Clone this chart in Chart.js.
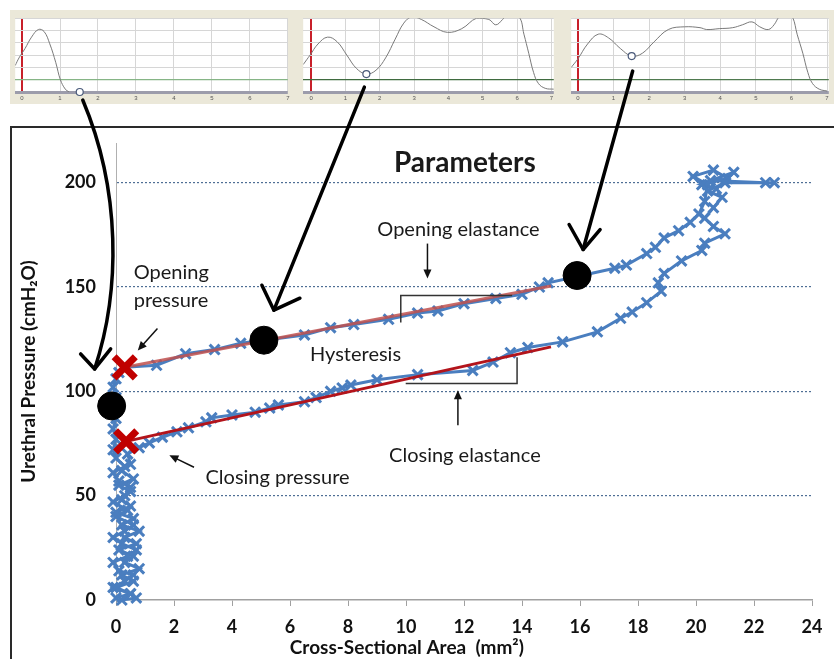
<!DOCTYPE html>
<html>
<head>
<meta charset="utf-8">
<title>Parameters</title>
<script src="https://cdn.jsdelivr.net/npm/chart.js@4.4.0/dist/chart.umd.min.js"></script>
<style>
  html, body { margin: 0; padding: 0; background: #fff; }
  #page { position: relative; width: 834px; height: 659px; overflow: hidden; }
  #mainChart { position: absolute; left: 0; top: 0; z-index: 1; }
  #frame { position: absolute; left: 10px; top: 126px; width: 830px; height: 540px;
           border-top: 2px solid #2a2a2a; border-left: 2px solid #2a2a2a; z-index: 2; pointer-events: none; }
  #strip { position: absolute; left: 10px; top: 10px; width: 824px; height: 94px; background: #ebe8d9; z-index: 3; }
  .panel { position: absolute; top: 13px; z-index: 4; }
  #overlay { position: absolute; left: 0; top: 0; z-index: 5; pointer-events: none; }
</style>
</head>
<body>
<div id="page">
  <canvas id="mainChart" width="834" height="659"></canvas>
  <div id="frame"></div>
  <div id="strip"></div>
  <canvas id="panel1" class="panel" width="283" height="91" style="left:10px"></canvas>
  <canvas id="panel2" class="panel" width="261" height="91" style="left:298px"></canvas>
  <canvas id="panel3" class="panel" width="268" height="91" style="left:566px"></canvas>
  <canvas id="overlay" width="834" height="659"></canvas>
</div>
<script>
// pressure-area loop (area mm2, pressure cmH2O), in recording order
const loopArea = [
    0.0, 0.5, -0.1, 0.3, 0.6, 0.1, -0.1, 0.4, 0.7, 0.2, -0.1, 0.3, 0.6, 0.0, 0.4, -0.1, 0.3, 0.5, 0.1, -0.1,
    0.3, 0.0, -0.1, 0.0, -0.1, 0.0, -0.1, 0.0, -0.1, 0.0, 0.1,
    0.3, 1.4, 2.4, 3.4, 4.3, 5.1, 6.5, 7.4, 8.2, 9.4, 10.4, 11.1, 12.0, 13.1, 14.0, 14.6, 14.9, 15.9,
    17.2, 17.6, 18.3, 18.6, 18.9, 19.4, 19.8, 20.1, 20.3, 20.4, 19.9, 20.6, 21.1, 20.2, 20.7, 21.3, 20.5,
    22.4, 22.7, 21.0, 20.4, 20.9, 20.6, 20.3, 20.6, 21.0, 20.3, 20.2, 19.5, 18.9, 18.7, 18.8, 18.3, 17.8,
    17.4, 16.6, 15.4, 14.2, 13.6, 13.0, 12.3, 10.4, 9.0, 8.1, 7.8, 7.4, 6.9, 6.5, 5.6, 5.3, 4.8, 4.0,
    3.3, 3.1, 2.5, 2.1, 1.6, 1.15, 0.8, 0.4, 0.5,
    0.2, 0.6, 0.1, 0.5, 0.2, 0.5, 0.0, 0.6, 0.2, 0.8, 0.3, 0.7, 0.1, 0.6, 0.3, 0.8, 0.2, 0.6, 0.0, 0.5, 0.2, 0.7
];
const loopPressure = [
    1, 3, 6, 9, 12, 14, 18, 21, 24, 27, 30, 33, 36, 40, 43, 47, 50, 54, 57, 61,
    64, 68, 72, 77, 82, 87, 92, 97, 102, 106, 109,
    111.5, 112.5, 118, 120, 123, 124.5, 127, 130.5, 132, 134.5, 137.5, 138.5, 142, 144.5, 146.5, 150, 152, 155,
    159, 160.5, 166, 169, 173.5, 177, 181, 185, 191, 199, 203, 206, 202, 199, 197, 205, 201,
    200, 200, 200, 196, 193, 188, 183, 179, 175.5, 171, 167.5, 162.5, 156.5, 152, 148, 142.5, 138,
    135, 128.5, 123.7, 121, 118.5, 114, 110, 108, 105.5, 103, 101.6, 100, 97, 95, 93.5, 92, 90, 88.7,
    87.3, 85.4, 82.5, 80.6, 78, 75.3, 73, 70, 65,
    62, 58, 55, 52, 48, 45, 42, 39, 36, 33, 30, 27, 24, 21, 18, 15, 12, 9, 6, 3, 0, 1
];

// linear fits for the elastances
const openFitArea = [0.3, 15.0];
const openFitPressure = [111.5, 150.5];
const closeFitArea = [0.35, 15.0];
const closeFitPressure = [76, 121.3];

// opening / closing pressure marks
const pressureMarkArea = [0.3, 0.35];
const pressureMarkPressure = [111.5, 76];

// instants shown in the three traces above
const instantArea = [-0.15, 5.1, 15.9];
const instantPressure = [93, 124.5, 155.5];

const areaTicks = { min: 0, max: 24, step: 2 };
const pressureTicks = { min: 0, max: 219, step: 50 };

// the three traces (time, diameter level)
const trace1X = [-0.18, -0.08, 0.08, 0.25, 0.43, 0.58, 0.73, 0.89, 1.01, 1.14, 1.24];
const trace1Y = [2.15, 2.77, 3.54, 4.46, 5.08, 4.92, 3.92, 2.38, 1.0, 0.23, 0.0];
const trace2X = [-0.23, -0.03, 0.2, 0.48, 0.76, 1.04, 1.32, 1.61, 1.89, 2.17, 2.45, 2.7, 2.93, 3.21, 3.58,
    3.97, 4.39, 4.82, 5.18, 5.38, 5.58, 5.75, 6.06, 6.2, 6.34, 6.48, 6.62, 6.82, 7.07];
const trace2Y = [2.23, 3.0, 3.9, 4.46, 4.08, 3.0, 1.92, 1.46, 1.77, 2.77, 4.3, 5.6, 6.1, 5.9, 5.3,
    4.85, 5.15, 6.0, 5.9, 5.46, 5.9, 6.4, 6.1, 4.7, 3.15, 1.6, 0.7, 0.3, 0.23];
const trace3X = [-0.19, 0.0, 0.27, 0.57, 0.86, 1.19, 1.51, 1.81, 2.14, 2.54, 3.0, 3.43, 3.62, 3.97, 4.35,
    4.62, 4.89, 5.11, 5.35, 5.51, 5.65, 5.86, 6.03, 6.16, 6.32, 6.46, 6.59, 6.78, 7.0];
const trace3Y = [2.0, 2.7, 3.9, 4.7, 4.4, 3.54, 2.92, 3.15, 4.08, 5.08, 5.3, 5.23, 5.08, 5.15, 5.23,
    5.46, 5.7, 5.3, 5.08, 5.46, 6.1, 6.6, 6.1, 4.7, 3.15, 1.6, 0.7, 0.23, 0.08];
const traceMarkX = [1.52, 1.61, 1.51];
const traceMarkY = [0.0, 1.46, 2.92];

const toPoints = (xs, ys) => xs.map((x, i) => ({ x: x, y: ys[i] }));
const FONT = 'Lato, "Open Sans", sans-serif';

// text notes and slope brackets, in data units of the main chart
const notes = [
    { text: 'Parameters', x: 12.03, y: 209.6, font: 'bold 28px ' + FONT, align: 'center' },
    { text: 'Opening elastance', x: 11.81, y: 177.5, font: '20px ' + FONT, align: 'center' },
    { text: 'Opening', x: 0.61, y: 156.9, font: '20px ' + FONT, align: 'left', box: true },
    { text: 'pressure', x: 0.61, y: 143.5, font: '20px ' + FONT, align: 'left', box: true },
    { text: 'Hysteresis', x: 8.26, y: 117.7, font: '20px ' + FONT, align: 'center' },
    { text: 'Closing elastance', x: 12.03, y: 69.4, font: '20px ' + FONT, align: 'center' },
    { text: 'Closing pressure', x: 5.57, y: 58.9, font: '20px ' + FONT, align: 'center' }
];
const pointers = [
    [[1.43, 130.1], [0.75, 119.6]],
    [[10.74, 170.8], [10.74, 154.1]],
    [[11.79, 83.7], [11.79, 100.5]],
    [[2.69, 63.6], [1.84, 69.4]]
];
const brackets = [
    [[9.82, 133], [9.82, 145.9], [13.66, 145.9]],
    [[9.99, 103.8], [13.83, 103.8], [13.83, 116.3]]
];

const notesPlugin = {
    id: 'notes',
    afterDraw(chart) {
        const ctx = chart.ctx;
        const sx = chart.scales.x, sy = chart.scales.y;
        const px = v => sx.getPixelForValue(v);
        const py = v => sy.getPixelForValue(v);
        ctx.save();
        ctx.textBaseline = 'middle';
        notes.forEach(n => {
            ctx.font = n.font;
            ctx.textAlign = n.align;
            if (n.box) {
                const w = ctx.measureText(n.text).width;
                ctx.fillStyle = '#fff';
                ctx.fillRect(px(n.x) - 3, py(n.y) - 12, w + 6, 24);
            }
            ctx.fillStyle = '#1a1a1a';
            ctx.fillText(n.text, px(n.x), py(n.y));
        });
        // x axis title
        ctx.font = 'bold 19px ' + FONT;
        ctx.textAlign = 'center';
        ctx.fillStyle = '#111';
        ctx.fillText('Cross-Sectional Area  (mm²)', px(10.03), chart.chartArea.bottom + 48);

        ctx.strokeStyle = '#111';
        ctx.fillStyle = '#111';
        ctx.lineWidth = 1.5;
        pointers.forEach(p => {
            const x0 = px(p[0][0]), y0 = py(p[0][1]);
            const x1 = px(p[1][0]), y1 = py(p[1][1]);
            const a = Math.atan2(y1 - y0, x1 - x0);
            ctx.beginPath();
            ctx.moveTo(x0, y0);
            ctx.lineTo(x1 - 6 * Math.cos(a), y1 - 6 * Math.sin(a));
            ctx.stroke();
            ctx.beginPath();
            ctx.moveTo(x1, y1);
            ctx.lineTo(x1 - 9 * Math.cos(a) + 4 * Math.sin(a), y1 - 9 * Math.sin(a) - 4 * Math.cos(a));
            ctx.lineTo(x1 - 9 * Math.cos(a) - 4 * Math.sin(a), y1 - 9 * Math.sin(a) + 4 * Math.cos(a));
            ctx.closePath();
            ctx.fill();
        });
        ctx.lineWidth = 1.5;
        ctx.strokeStyle = '#333';
        brackets.forEach(b => {
            ctx.beginPath();
            b.forEach((pt, i) => i ? ctx.lineTo(px(pt[0]), py(pt[1])) : ctx.moveTo(px(pt[0]), py(pt[1])));
            ctx.stroke();
        });
        ctx.restore();
    }
};

const mainChart = new Chart(document.getElementById('mainChart'), {
    type: 'scatter',
    data: {
        datasets: [{
            label: 'Instants',
            data: toPoints(instantArea, instantPressure),
            pointStyle: 'circle',
            pointRadius: 14,
            pointBackgroundColor: '#000',
            pointBorderColor: '#000',
            clip: false,
            order: 0
        }, {
            label: 'Opening / closing pressure',
            data: toPoints(pressureMarkArea, pressureMarkPressure),
            pointStyle: 'crossRot',
            pointRadius: 15,
            pointBorderWidth: 7,
            pointBorderColor: '#c00000',
            clip: false,
            order: 1
        }, {
            label: 'Opening elastance',
            data: toPoints(openFitArea, openFitPressure),
            showLine: true,
            borderColor: 'rgba(192, 80, 77, 0.85)',
            borderWidth: 3,
            pointRadius: 0,
            order: 2
        }, {
            label: 'Closing elastance',
            data: toPoints(closeFitArea, closeFitPressure),
            showLine: true,
            borderColor: '#b3141b',
            borderWidth: 3,
            pointRadius: 0,
            order: 3
        }, {
            label: 'Loop',
            data: toPoints(loopArea, loopPressure),
            showLine: true,
            borderColor: '#4a7ebf',
            borderWidth: 3,
            pointStyle: 'crossRot',
            pointRadius: 7,
            pointBorderWidth: 3,
            pointBorderColor: '#4a7ebf',
            clip: false,
            order: 4
        }]
    },
    options: {
        responsive: false,
        animation: false,
        events: [],
        layout: { padding: { left: 10, top: 143, right: 12, bottom: 0 } },
        plugins: { legend: { display: false }, tooltip: { enabled: false } },
        scales: {
            x: {
                type: 'linear',
                min: areaTicks.min,
                max: areaTicks.max,
                ticks: { stepSize: areaTicks.step, padding: 10, color: '#111', font: { family: FONT, size: 18, weight: 'bold' } },
                grid: { drawOnChartArea: false, tickLength: 6, color: '#a0a0a0' },
                border: { color: '#a0a0a0', width: 1.5 },
                afterFit: s => { s.height = 59; }
            },
            y: {
                min: pressureTicks.min,
                max: pressureTicks.max,
                ticks: { stepSize: pressureTicks.step, includeBounds: false, padding: 20, color: '#111', font: { family: FONT, size: 18, weight: 'bold' } },
                grid: {
                    drawTicks: false,
                    lineWidth: 1.2,
                    color: ctx => (ctx.tick && ctx.tick.value === 0) ? 'rgba(0,0,0,0)' : '#4f6f95'
                },
                border: { color: '#b0b0b0', width: 1, dash: [2, 2] },
                title: {
                    display: true,
                    text: 'Urethral Pressure (cmH₂O)',
                    color: '#111',
                    font: { family: FONT, size: 19, weight: 'bold' },
                    padding: { top: 7, bottom: 0 }
                },
                afterFit: s => { s.width = 106; }
            }
        }
    },
    plugins: [notesPlugin]
});

const whiteArea = {
    id: 'whiteArea',
    beforeDraw(chart) {
        const a = chart.chartArea;
        chart.ctx.save();
        chart.ctx.fillStyle = '#fff';
        chart.ctx.fillRect(a.left, a.top, a.right - a.left, a.bottom - a.top);
        chart.ctx.restore();
    }
};

function makeTrace(id, xs, ys, markX, markY, xMin, xMax, greenLine) {
    return new Chart(document.getElementById(id), {
        type: 'scatter',
        data: {
            datasets: [{
                data: toPoints([markX], [markY]),
                pointRadius: 3.5,
                pointBorderWidth: 1.2,
                pointBorderColor: '#4a5a7a',
                pointBackgroundColor: '#fff',
                clip: false,
                order: 0
            }, {
                data: toPoints(xs, ys),
                showLine: true,
                tension: 0.4,
                borderColor: '#7a7a7a',
                borderWidth: 1,
                pointRadius: 0,
                order: 1
            }]
        },
        options: {
            responsive: false,
            animation: false,
            events: [],
            layout: { padding: 0 },
            plugins: { legend: { display: false }, tooltip: { enabled: false } },
            scales: {
                x: {
                    min: xMin,
                    max: xMax,
                    ticks: { stepSize: 1, includeBounds: false, autoSkip: false, maxRotation: 0, padding: 3, color: '#555', font: { size: 6 } },
                    grid: {
                        drawTicks: false,
                        color: ctx => (ctx.tick && ctx.tick.value === 0) ? '#c8202a' : '#d6d6d6',
                        lineWidth: ctx => (ctx.tick && ctx.tick.value === 0) ? 2 : 1
                    },
                    border: { display: false },
                    afterFit: s => { s.height = 12; }
                },
                y: {
                    min: 0,
                    max: 6,
                    ticks: { display: false, stepSize: 1 },
                    grid: {
                        drawTicks: false,
                        color: ctx => {
                            const v = ctx.tick ? ctx.tick.value : -1;
                            return v === 0 ? '#9c9cab' : (v === 1 ? greenLine : '#d6d6d6');
                        },
                        lineWidth: ctx => {
                            const v = ctx.tick ? ctx.tick.value : -1;
                            return v === 0 ? 3 : (v === 1 ? 1.3 : 1);
                        }
                    },
                    border: { display: false },
                    afterFit: s => { s.width = 0; }
                }
            }
        },
        plugins: [whiteArea]
    });
}

const trace1 = makeTrace('panel1', trace1X, trace1Y, traceMarkX[0], traceMarkY[0], -0.18, 7.0, '#86b586');
const trace2 = makeTrace('panel2', trace2X, trace2Y, traceMarkX[1], traceMarkY[1], -0.23, 7.07, '#3f6b3f');
const trace3 = makeTrace('panel3', trace3X, trace3Y, traceMarkX[2], traceMarkY[2], -0.19, 7.05, '#4f7a4f');

// big pointers from each trace to its instant on the loop
function pagePos(chart, canvasId, datasetIndex, index) {
    const el = chart.getDatasetMeta(datasetIndex).data[index];
    const c = document.getElementById(canvasId);
    return { x: c.offsetLeft + el.x, y: c.offsetTop + el.y };
}

const ov = document.getElementById('overlay').getContext('2d');
function bigArrow(start, tip, c1, c2, armL, armR) {
    ov.save();
    ov.strokeStyle = '#000';
    ov.lineWidth = 3.5;
    ov.lineCap = 'round';
    ov.lineJoin = 'round';
    ov.beginPath();
    ov.moveTo(start.x, start.y);
    if (c1) {
        ov.bezierCurveTo(c1.x, c1.y, c2.x, c2.y, tip.x, tip.y);
    } else {
        ov.lineTo(tip.x, tip.y);
    }
    ov.stroke();
    ov.beginPath();
    ov.moveTo(tip.x + armL[0], tip.y + armL[1]);
    ov.lineTo(tip.x, tip.y);
    ov.lineTo(tip.x + armR[0], tip.y + armR[1]);
    ov.stroke();
    ov.restore();
}

const m1 = pagePos(trace1, 'panel1', 0, 0);
const m2 = pagePos(trace2, 'panel2', 0, 0);
const m3 = pagePos(trace3, 'panel3', 0, 0);
const i1 = pagePos(mainChart, 'mainChart', 0, 0);
const i2 = pagePos(mainChart, 'mainChart', 0, 1);
const i3 = pagePos(mainChart, 'mainChart', 0, 2);

bigArrow({ x: m1.x + 3, y: m1.y + 8 }, { x: i1.x - 17, y: i1.y - 37 },
    { x: m1.x + 41, y: m1.y + 98 }, { x: m1.x + 41, y: m1.y + 198 }, [-14, -15], [16, -20]);
bigArrow({ x: m2.x - 2, y: m2.y + 13 }, { x: i2.x + 10, y: i2.y - 30 }, null, null, [-12, -25], [26, -12]);
bigArrow({ x: m3.x + 1, y: m3.y + 15 }, { x: i3.x + 6, y: i3.y - 26 }, null, null, [-14, -25], [17, -20]);
</script>
</body>
</html>
